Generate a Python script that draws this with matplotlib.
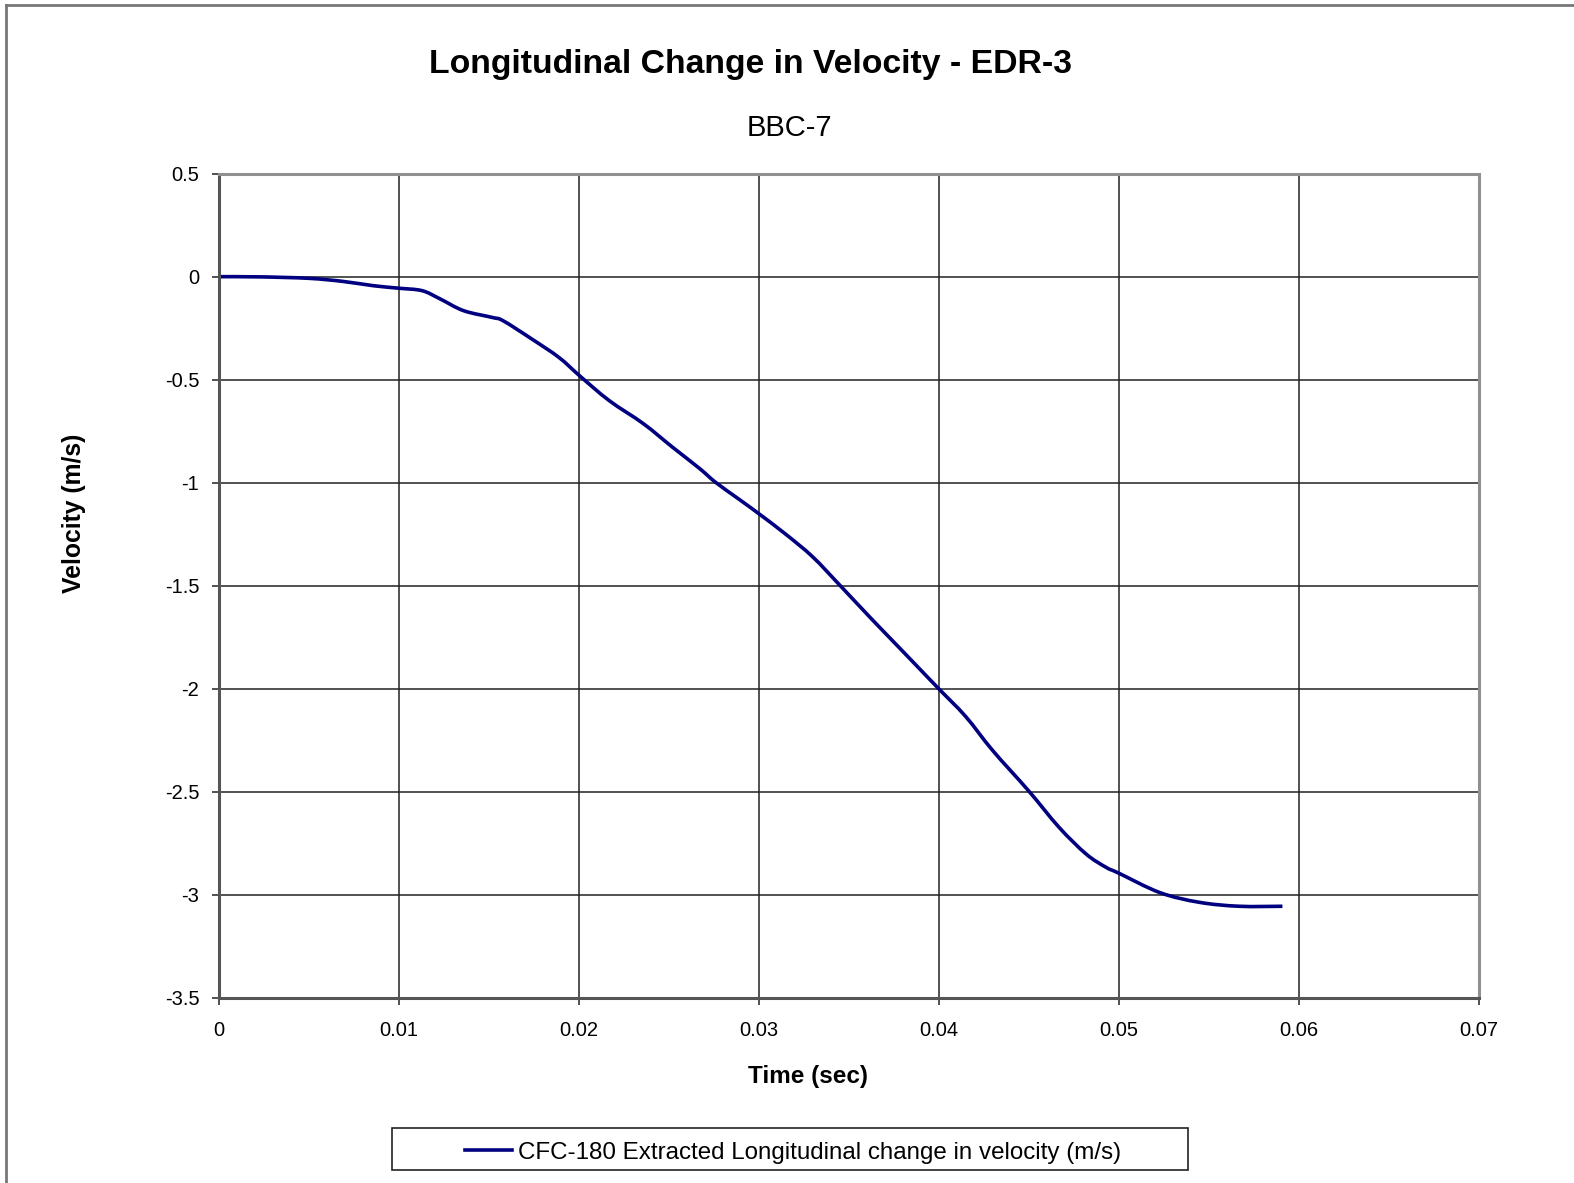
import matplotlib
matplotlib.use("Agg")
import matplotlib.pyplot as plt
from matplotlib.lines import Line2D
from matplotlib.path import Path
from matplotlib.patches import PathPatch, Rectangle

plt.rcParams['font.family'] = ['Liberation Sans', 'DejaVu Sans']

# time (sec) and velocity (m/s)
time_s = [0, 0.0023, 0.005, 0.0069, 0.0086, 0.01, 0.0113, 0.0123, 0.0136, 0.0152,
          0.0158, 0.0174, 0.0189, 0.0201, 0.0217, 0.0236, 0.0252, 0.0267, 0.0276, 0.0289,
          0.030, 0.0315, 0.033, 0.0345, 0.0362, 0.0378, 0.0389, 0.04, 0.0415, 0.043,
          0.045, 0.0467, 0.0482, 0.0493, 0.05, 0.0523, 0.0545, 0.0567, 0.0591]
velocity = [0, -0.001, -0.008, -0.023, -0.044, -0.056, -0.068, -0.108, -0.165, -0.198,
            -0.214, -0.303, -0.392, -0.485, -0.602, -0.714, -0.827, -0.93, -0.998, -1.08,
            -1.15, -1.25, -1.36, -1.497, -1.655, -1.8, -1.9, -2.0, -2.135, -2.3,
            -2.496, -2.674, -2.803, -2.867, -2.895, -2.99, -3.037, -3.056, -3.056]

x_ticks = [0, 0.01, 0.02, 0.03, 0.04, 0.05, 0.06, 0.07]
x_labels = ['0', '0.01', '0.02', '0.03', '0.04', '0.05', '0.06', '0.07']
y_ticks = [0.5, 0, -0.5, -1, -1.5, -2, -2.5, -3, -3.5]
y_labels = ['0.5', '0', '-0.5', '-1', '-1.5', '-2', '-2.5', '-3', '-3.5']

series_name = 'CFC-180 Extracted Longitudinal change in velocity (m/s)'
line_color = '#000080'


def smoothed_path(xs, ys):
    # Excel-style smoothed line: cubic bezier through every point
    n = len(xs)
    verts = [(xs[0], ys[0])]
    codes = [Path.MOVETO]
    for i in range(n - 1):
        a, b = max(i - 1, 0), min(i + 2, n - 1)
        c1 = (xs[i] + (xs[i + 1] - xs[a]) / 6, ys[i] + (ys[i + 1] - ys[a]) / 6)
        c2 = (xs[i + 1] - (xs[b] - xs[i]) / 6, ys[i + 1] - (ys[b] - ys[i]) / 6)
        verts += [c1, c2, (xs[i + 1], ys[i + 1])]
        codes += [Path.CURVE4] * 3
    return Path(verts, codes)


fig = plt.figure(figsize=(15.74, 11.83), dpi=100)
ax = fig.add_axes([0.139, 0.1566, 0.8004, 0.6966])

ax.add_patch(PathPatch(smoothed_path(time_s, velocity), fill=False,
                       edgecolor=line_color, lw=2.6, capstyle='butt'))

ax.set_xlim(0, 0.07)
ax.set_ylim(-3.5, 0.5)
ax.set_xticks(x_ticks)
ax.set_xticklabels(x_labels)
ax.set_yticks(y_ticks)
ax.set_yticklabels(y_labels)
ax.tick_params(labelsize=14.5, length=5, width=1.2, color='#333333')
ax.tick_params(axis='x', pad=12)
ax.tick_params(axis='y', pad=9)
ax.grid(True, color='#222222', lw=1.1)
ax.set_axisbelow(True)

for side in ['top', 'right']:
    ax.spines[side].set_color('#909090')
    ax.spines[side].set_linewidth(2.2)
for side in ['left', 'bottom']:
    ax.spines[side].set_color('#555555')
    ax.spines[side].set_linewidth(2.2)

# axis titles
fig.text(808 / 1574, 1 - 1077 / 1183, 'Time (sec)', ha='center', va='center',
         fontsize=17.5, fontweight='bold')
fig.text(73.5 / 1574, 1 - 513 / 1183, 'Velocity (m/s)', ha='center', va='center',
         fontsize=17.8, fontweight='bold', rotation=90)

fig.text(0.477, 0.9455, 'Longitudinal Change in Velocity - EDR-3', ha='center', va='center',
         fontsize=24.3, fontweight='bold')
fig.text(0.5013, 0.892, 'BBC-7', ha='center', va='center', fontsize=21)

# legend box at the bottom
fig.add_artist(Rectangle((391.5 / 1574, 1 - 1170.4 / 1183), 796 / 1574, 42 / 1183,
                         fill=False, edgecolor='#222222', lw=1.2,
                         transform=fig.transFigure))
handle = Line2D([], [], color=line_color, lw=2.6)
fig.legend([handle], [series_name], loc='center left',
           bbox_to_anchor=(464.8 / 1574, 1 - 1152.5 / 1183), fontsize=17.4,
           frameon=False, handlelength=1.95, handletextpad=0.25,
           borderpad=0, borderaxespad=0)

# outer figure border (left and top edges visible)
fig.add_artist(Line2D([6 / 1574, 6 / 1574], [0, 1 - 5 / 1183], color='#777777', lw=2,
                      transform=fig.transFigure))
fig.add_artist(Line2D([6 / 1574, 1], [1 - 5 / 1183, 1 - 5 / 1183], color='#777777', lw=2,
                      transform=fig.transFigure))

fig.savefig('out.png', dpi=100)
